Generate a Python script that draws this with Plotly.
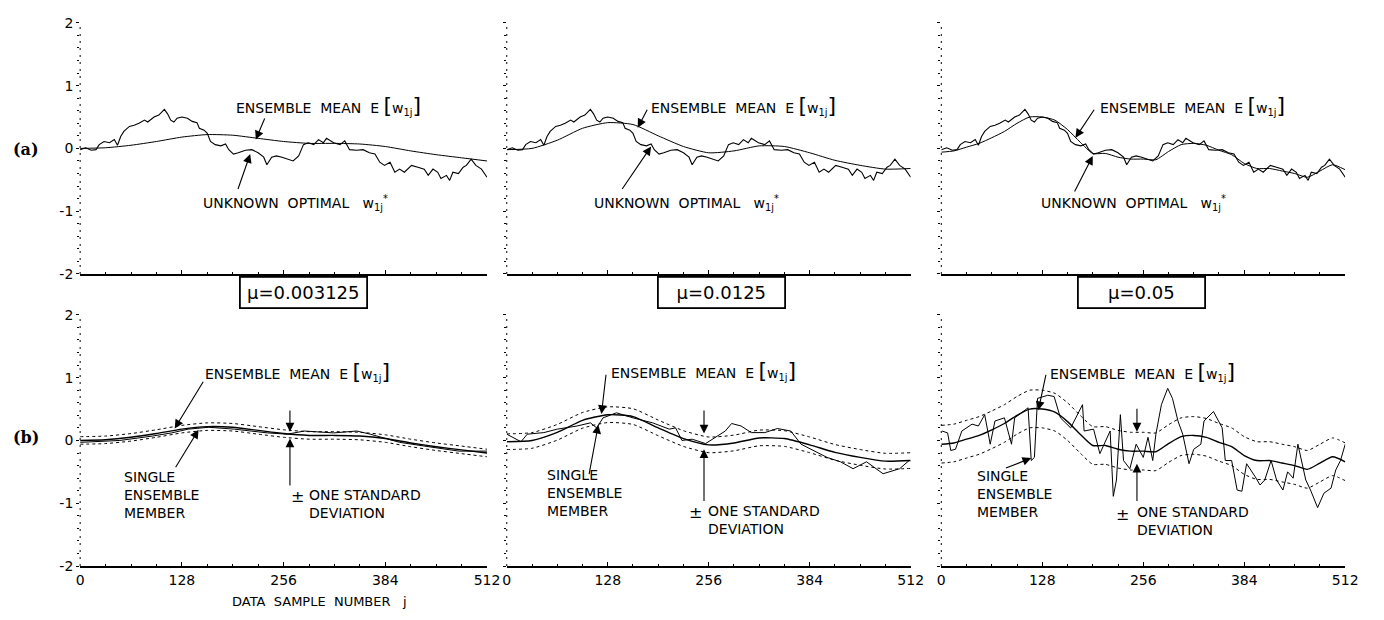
import plotly.graph_objects as go
import numpy as np

# ---------------- data ----------------
MU_LABELS = ["\u03bc=0.003125", "\u03bc=0.0125", "\u03bc=0.05"]
X_TICKS = [0, 128, 256, 384, 512]
Y_TICKS = [-2, -1, 0, 1, 2]
Y_TICKTEXT = ["-2", "-1", "0", "1", "2"]

# unknown optimal weight w*_1j (same in all three panels)
W_J = [0, 7, 14, 20, 24, 30, 37, 43, 47, 51, 55, 62, 68, 74, 81, 85, 93, 99, 106, 110,
       114, 118, 122, 128, 135, 141, 147, 150, 156, 160, 164, 170, 177, 183, 187, 193, 199, 208, 216, 224,
       231, 235, 241, 247, 254, 260, 268, 275, 281, 287, 294, 300, 306, 310, 319, 327, 333, 339, 348, 356,
       364, 371, 377, 383, 390, 396, 402, 408, 417, 425, 433, 438, 444, 450, 454, 461, 465, 469, 476, 482,
       486, 492, 498, 505, 512]
W_STAR = [-0.02, 0.01, -0.03, -0.02, 0.06, 0.11, 0.09, 0.14, 0.05, 0.19, 0.27, 0.35, 0.37, 0.40, 0.45, 0.42, 0.50, 0.53, 0.62, 0.55,
          0.45, 0.42, 0.48, 0.50, 0.48, 0.43, 0.41, 0.32, 0.29, 0.24, 0.11, 0.06, 0.04, 0.07, -0.02, -0.09, -0.07, -0.03, -0.02, -0.07,
          -0.14, -0.26, -0.14, -0.12, -0.14, -0.17, -0.20, -0.12, 0.06, 0.09, 0.06, 0.14, 0.09, 0.16, 0.09, 0.06, 0.12, -0.02, -0.03, -0.02,
          -0.07, -0.09, -0.22, -0.27, -0.22, -0.38, -0.33, -0.38, -0.27, -0.30, -0.33, -0.43, -0.33, -0.38, -0.48, -0.43, -0.51, -0.38, -0.40, -0.30,
          -0.27, -0.17, -0.27, -0.33, -0.46]

# ensemble means
E1_J = [0, 32, 64, 96, 128, 160, 192, 224, 256, 288, 320, 352, 384, 416, 448, 480, 512]
E1 = [0.0, 0.01, 0.05, 0.11, 0.18, 0.22, 0.21, 0.16, 0.11, 0.08, 0.08, 0.07, 0.03, -0.04, -0.10, -0.15, -0.20]
E2_J = [0, 32, 64, 96, 128, 160, 192, 224, 256, 288, 320, 352, 384, 416, 448, 480, 512]
E2 = [-0.02, 0.0, 0.13, 0.32, 0.41, 0.38, 0.20, 0.03, -0.07, -0.04, 0.04, 0.03, -0.07, -0.19, -0.27, -0.33, -0.32]
E3_J = [0, 16, 32, 48, 64, 80, 96, 112, 128, 144, 160, 176, 192, 208, 224, 240, 256,
        272, 288, 304, 320, 336, 352, 368, 384, 400, 416, 432, 448, 464, 480, 496, 512]
E3 = [-0.06, -0.04, 0.02, 0.08, 0.17, 0.27, 0.40, 0.50, 0.50, 0.45, 0.30, 0.10, -0.08, -0.08, -0.14, -0.17, -0.17,
      -0.18, -0.05, 0.06, 0.08, 0.05, -0.03, -0.10, -0.24, -0.32, -0.32, -0.36, -0.40, -0.46, -0.36, -0.26, -0.34]

# one standard deviation of the ensemble (per mu)
SIGMA = [0.06, 0.125, 0.30]

# single ensemble member
M1_J = [0, 50, 91, 115, 136, 162, 194, 236, 261, 282, 319, 348, 365, 402, 444, 477, 502, 512]
M1 = [-0.03, 0.0, 0.07, 0.12, 0.18, 0.21, 0.18, 0.12, 0.10, 0.15, 0.12, 0.15, 0.10, -0.03, -0.11, -0.17, -0.17, -0.17]
M2_J = [0, 18, 26, 47, 64, 89, 106, 114, 122, 139, 160, 185, 206, 214, 222, 235, 252, 264, 277, 285,
        297, 310, 327, 343, 360, 373, 389, 406, 423, 439, 456, 477, 498, 510]
M2 = [0.10, -0.02, 0.10, 0.125, 0.18, 0.23, 0.28, 0.20, 0.36, 0.44, 0.36, 0.28, 0.18, 0.20, 0.0, 0.02, -0.05, 0.05, 0.15, 0.27,
      0.23, 0.125, 0.125, 0.19, 0.15, -0.06, -0.16, -0.27, -0.34, -0.45, -0.34, -0.53, -0.45, -0.32]
M3_J = [1, 8, 12, 18, 26, 39, 47, 55, 62, 68, 80, 89, 93, 101, 110, 114, 118, 122, 135, 143,
        151, 164, 179, 181, 193, 201, 214, 218, 222, 227, 231, 239, 247, 256, 262, 268, 272, 279, 287, 293,
        300, 306, 314, 320, 329, 333, 345, 356, 360, 368, 375, 381, 387, 398, 404, 410, 418, 425, 433, 439,
        446, 452, 456, 462, 468, 477, 485, 494, 500, 506, 512]
M3 = [0.15, 0.12, -0.16, -0.14, 0.15, 0.26, 0.23, 0.41, -0.06, 0.31, 0.36, -0.06, 0.36, 0.44, 0.52, -0.32, -0.27, 0.67, 0.72, 0.70,
      0.36, 0.20, 0.57, 0.15, 0.18, -0.21, 0.15, -0.89, -0.63, 0.41, -0.32, -0.45, -0.06, -0.27, 0.05, -0.32, 0.10, 0.57, 0.83, 0.67,
      0.31, 0.10, -0.37, -0.14, -0.06, 0.31, 0.46, 0.20, -0.32, -0.32, -0.79, -0.81, -0.37, -0.58, -0.71, -0.63, -0.32, -0.63, -0.79, -0.50,
      -0.60, -0.06, -0.27, -0.63, -0.79, -1.07, -0.84, -0.76, -0.47, -0.32, -0.06]

E_SERIES = [(E1_J, E1), (E2_J, E2), (E3_J, E3)]
M_SERIES = [(M1_J, M1), (M2_J, M2), (M3_J, M3)]

# ---------------- layout geometry ----------------
# the page body keeps its default 8px margin, so the figure is 16px smaller than the window
OFF = 8
W, H = 1384 - 2 * OFF, 620 - 2 * OFF


def px(xp):
    return (xp - OFF) / W


def py(yp):
    return 1 - (yp - OFF) / H


X_DOM = [(px(77), px(489)), (px(509), px(918)), (px(949), px(1358))]
Y_DOM = [(py(273), py(15)), (py(573), py(315))]  # row 0 = (a), row 1 = (b)
FONT = "DejaVu Sans"
BLK = "black"
TXT = 14


def ax_id(row, col):
    return row * 3 + col + 1


def xr(k):
    return "x" if k == 1 else f"x{k}"


def yr(k):
    return "y" if k == 1 else f"y{k}"


fig = go.Figure()
layout = dict(width=W, height=H, margin=dict(l=0, r=0, t=0, b=0),
              paper_bgcolor="white", plot_bgcolor="white", showlegend=False)
shapes = []
annotations = []

for row in range(2):
    for col in range(3):
        k = ax_id(row, col)
        layout["xaxis" if k == 1 else f"xaxis{k}"] = dict(
            domain=list(X_DOM[col]), anchor=yr(k), range=[0, 512],
            tickvals=X_TICKS, ticks="inside", ticklen=4, tickwidth=1.2, tickcolor=BLK,
            minor=dict(dtick=32, ticks="inside", ticklen=2, tickcolor=BLK),
            showticklabels=(row == 1), tickfont=dict(family=FONT, size=14, color=BLK),
            showline=True, linecolor=BLK, linewidth=1.5, showgrid=False, zeroline=False,
        )
        layout["yaxis" if k == 1 else f"yaxis{k}"] = dict(
            domain=list(Y_DOM[row]), anchor=xr(k), range=[-2, 2],
            tickvals=Y_TICKS, ticktext=Y_TICKTEXT, ticks="outside", ticklen=3, tickwidth=1.3, tickcolor=BLK,
            minor=dict(dtick=0.2, ticks="outside", ticklen=2, tickwidth=1.3, tickcolor=BLK),
            showticklabels=(col == 0), tickfont=dict(family=FONT, size=14, color=BLK),
            showline=False, showgrid=False, zeroline=False,
        )
        # broken (dotted) vertical axis
        shapes.append(dict(type="line", xref="paper", yref="paper",
                           x0=X_DOM[col][0], x1=X_DOM[col][0], y0=Y_DOM[row][0], y1=Y_DOM[row][1],
                           line=dict(color=BLK, width=1, dash="2px,5px")))

        ej, ev = E_SERIES[col]
        if row == 0:
            fig.add_trace(go.Scatter(x=W_J, y=W_STAR, mode="lines", xaxis=xr(k), yaxis=yr(k),
                                     line=dict(color=BLK, width=1.1)))
            fig.add_trace(go.Scatter(x=ej, y=ev, mode="lines", xaxis=xr(k), yaxis=yr(k),
                                     line=dict(color=BLK, width=1, shape="spline", smoothing=0.6)))
        else:
            e = np.array(ev)
            s = SIGMA[col]
            fig.add_trace(go.Scatter(x=ej, y=e + s, mode="lines", xaxis=xr(k), yaxis=yr(k),
                                     line=dict(color=BLK, width=1, dash="dot", shape="spline", smoothing=0.6)))
            fig.add_trace(go.Scatter(x=ej, y=e - s, mode="lines", xaxis=xr(k), yaxis=yr(k),
                                     line=dict(color=BLK, width=1, dash="dot", shape="spline", smoothing=0.6)))
            fig.add_trace(go.Scatter(x=ej, y=ev, mode="lines", xaxis=xr(k), yaxis=yr(k),
                                     line=dict(color=BLK, width=1.4, shape="spline", smoothing=0.6)))
            mj, mv = M_SERIES[col]
            fig.add_trace(go.Scatter(x=mj, y=mv, mode="lines", xaxis=xr(k), yaxis=yr(k),
                                     line=dict(color=BLK, width=1)))

BR_L = '<span style="font-size:22px">[</span>'
BR_R = '<span style="font-size:22px">]</span>'
E_TEXT = "ENSEMBLE&nbsp; MEAN&nbsp; E " + BR_L + "w<sub>1j</sub>" + BR_R
W_TEXT = "UNKNOWN&nbsp; OPTIMAL&nbsp;&nbsp; w<sub>1j</sub><sup>*</sup>"


def text(k, x, y, s, size=TXT, anchor="left"):
    annotations.append(dict(xref=xr(k), yref=yr(k), x=x, y=y, text=s, showarrow=False,
                            xanchor=anchor, yanchor="middle", align="left",
                            font=dict(family=FONT, size=size, color=BLK)))


def arrow(k, hx, hy, tx, ty):
    annotations.append(dict(xref=xr(k), yref=yr(k), axref=xr(k), ayref=yr(k),
                            x=hx, y=hy, ax=tx, ay=ty, text="", showarrow=True,
                            arrowhead=2, arrowsize=1.6, arrowwidth=1.1, arrowcolor=BLK, standoff=0))


# row (a) labels: (E text j, w* text j, E arrow head/tail, w* arrow head/tail)
TOP_LAB = [
    (193, 152, (221, 0.14, 233, 0.50), (214, -0.09, 198, -0.67)),
    (180, 108, (166, 0.33, 179, 0.64), (183, 0.03, 145, -0.67)),
    (199, 124, (170, 0.17, 195, 0.64), (192, -0.12, 168, -0.71)),
]
for col, (ej_, wj_, ea, wa) in enumerate(TOP_LAB):
    k = ax_id(0, col)
    text(k, ej_, 0.68, E_TEXT)
    text(k, wj_, -0.87, W_TEXT)
    arrow(k, *ea)
    arrow(k, *wa)

# row (b) labels
BOT_LAB = [
    dict(et=(155, 1.10), ea=(119, 0.19, 156, 0.96), st=(53, -0.87), sa=(149, 0.17, 119, -0.45),
         pm=(273, -0.90), ot=(286, -1.02), aj=264, dn=(0.50, 0.14), up=(-0.74, 0.03)),
    dict(et=(130, 1.12), ea=(120, 0.42, 126, 1.07), st=(49, -0.84), sa=(116, 0.25, 104, -0.56),
         pm=(239, -1.15), ot=(252, -1.26), aj=250, dn=(0.50, 0.11), up=(-0.99, -0.14)),
    dict(et=(135, 1.10), ea=(123, 0.48, 133, 1.07), st=(43, -0.85), sa=(114, -0.28, 80, -0.45),
         pm=(230, -1.18), ot=(245, -1.29), aj=248, dn=(0.53, 0.14), up=(-0.99, -0.37)),
]
for col, d in enumerate(BOT_LAB):
    k = ax_id(1, col)
    text(k, d["et"][0], d["et"][1], E_TEXT)
    arrow(k, *d["ea"])
    text(k, d["st"][0], d["st"][1], "SINGLE<br>ENSEMBLE<br>MEMBER")
    arrow(k, *d["sa"])
    text(k, d["pm"][0], d["pm"][1], "\u00b1", size=16, anchor="center")
    text(k, d["ot"][0], d["ot"][1], "ONE STANDARD<br>DEVIATION")
    arrow(k, d["aj"], d["dn"][1], d["aj"], d["dn"][0])
    arrow(k, d["aj"], d["up"][1], d["aj"], d["up"][0])

# mu boxes
for col, lab in enumerate(MU_LABELS):
    cx = px([303, 726.5, 1151.5][col])
    annotations.append(dict(xref="paper", yref="paper", x=cx, y=py(292), text=lab, showarrow=False,
                            xanchor="center", yanchor="middle", width=121, height=25, borderpad=2,
                            bordercolor=BLK, borderwidth=1.8, bgcolor="white",
                            font=dict(family=FONT, size=18, color=BLK)))

# (a), (b) row labels
for lab, yy in [("(a)", 145), ("(b)", 441)]:
    annotations.append(dict(xref="paper", yref="paper", x=px(22), y=py(yy), text="<b>%s</b>" % lab,
                            showarrow=False, xanchor="center", yanchor="middle",
                            font=dict(family="DejaVu Serif", size=16, color=BLK)))

# x-axis title
annotations.append(dict(xref="paper", yref="paper", x=px(319), y=py(609),
                        text="DATA&nbsp; SAMPLE&nbsp; NUMBER&nbsp;&nbsp; j", showarrow=False,
                        xanchor="center", yanchor="middle", font=dict(family=FONT, size=13, color=BLK)))

layout["shapes"] = shapes
layout["annotations"] = annotations
fig.update_layout(**layout)
fig.write_html("out.html", config={"displayModeBar": False})
